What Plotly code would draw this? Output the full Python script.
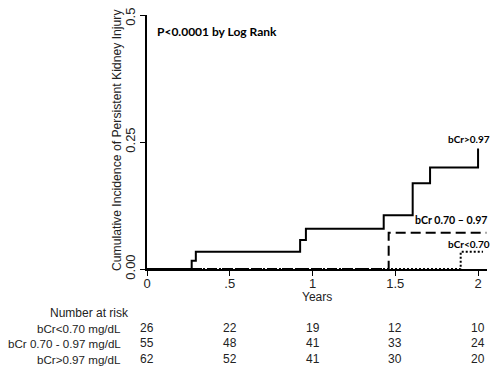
import plotly.graph_objects as go

# Data
t_high = [0, 0.27, 0.295, 0.925, 0.96, 1.43, 1.605, 1.71, 2.0]
v_high = [0, 0.016, 0.034, 0.057, 0.079, 0.106, 0.169, 0.200, 0.237]
t_mid = [0, 1.46, 2.05]
v_mid = [0, 0.0715, 0.0715]
t_low = [0, 1.895, 2.03]
v_low = [0, 0.034, 0.034]

risk_times = [0, 0.5, 1, 1.5, 2]
risk_groups = ["bCr<0.70 mg/dL", "bCr 0.70 - 0.97 mg/dL", "bCr>0.97 mg/dL"]
risk_low = [26, 22, 19, 12, 10]
risk_mid = [55, 48, 41, 33, 24]
risk_high = [62, 52, 41, 30, 20]

x_ticks = [0, 0.5, 1, 1.5, 2]
x_ticklabels = ["0", ".5", "1", "1.5", "2"]
y_ticks = [0, 0.25, 0.5]
y_ticklabels = ["0.00", "0.25", "0.50"]

# page offset (browser body margin)
OFF = 8
W, H = 500 - OFF, 367 - OFF
ml, mr, mt, mb = 147 - OFF, 13, 15 - OFF, 98
pw = W - ml - mr
ph = H - mt - mb

def px_x(p):
    return (p - OFF - ml) / pw

def px_y(p):
    return (H - mb - (p - OFF)) / ph

fig = go.Figure()
line_w = 2
fig.add_trace(go.Scatter(x=t_high, y=v_high, mode="lines", line=dict(color="black", width=line_w, shape="hv"), showlegend=False))
fig.add_trace(go.Scatter(x=t_mid, y=v_mid, mode="lines", line=dict(color="black", width=line_w, shape="hv", dash="10px,5px"), showlegend=False))
fig.add_trace(go.Scatter(x=t_low, y=v_low, mode="lines", line=dict(color="black", width=line_w, shape="hv", dash="2px,2px"), showlegend=False))

axis_font = dict(family="Liberation Sans, Arial, sans-serif", size=13, color="#222")
title_font = dict(family="Liberation Sans, Arial, sans-serif", size=12.2, color="#222")
base_font = dict(family="Liberation Sans, Arial, sans-serif", size=12, color="#222")
row_font = dict(family="Liberation Sans, Arial, sans-serif", size=11.6, color="#222")
bold_font = dict(family="Lato, sans-serif", size=12, color="black")
lab_font = dict(family="Lato, sans-serif", size=10.6, color="black")
lab_font_s = dict(family="Lato, sans-serif", size=10, color="black")

ann = []

def add(text, x, y, xanchor="center", font=base_font, xref="paper", **kw):
    ann.append(dict(text=text, x=x, y=y, xref=xref, yref="paper", xanchor=xanchor, yanchor="middle",
                    showarrow=False, font=font, borderpad=0, borderwidth=0, **kw))

add("<b>P<0.0001 by Log Rank</b>", px_x(157), px_y(31), "left", bold_font)
add("<b>bCr>0.97</b>", px_x(490), px_y(139), "right", lab_font_s)
add("<b>bCr 0.70 – 0.97</b>", px_x(487), px_y(220), "right", lab_font)
add("<b>bCr<0.70</b>", px_x(490), px_y(244), "right", lab_font_s)
add("Cumulative Incidence of Persistent Kidney Injury", px_x(117), px_y(140), "center", title_font, textangle=-90)
add("Years", px_x(317), px_y(297), "center", base_font)
add("Number at risk", px_x(129), px_y(313), "right", base_font)
row_y = [328, 343, 359]
for grp, vals, ry in zip(risk_groups, [risk_low, risk_mid, risk_high], row_y):
    add(grp, px_x(121), px_y(ry), "right", row_font)
    for t, v in zip(risk_times, vals):
        add(str(v), t, px_y(ry), "center", base_font, xref="x")

fig.update_layout(
    width=W, height=H,
    margin=dict(l=ml, r=mr, t=mt, b=mb, autoexpand=False),
    plot_bgcolor="white", paper_bgcolor="white",
    annotations=ann,
    xaxis=dict(range=[0, 2.054], tickvals=x_ticks, ticktext=x_ticklabels, showgrid=False, zeroline=False,
               showline=True, linecolor="black", linewidth=1.5, ticks="outside", ticklen=5, tickcolor="black",
               tickfont=axis_font, ticklabelstandoff=-3, ticklabeloverflow="allow", automargin=False),
    yaxis=dict(range=[0, 0.5], tickvals=y_ticks, ticktext=y_ticklabels, showgrid=False, zeroline=False,
               showline=True, linecolor="black", linewidth=1.5, ticks="outside", ticklen=5, tickcolor="black",
               tickangle=-90, tickfont=axis_font, ticklabeloverflow="allow", automargin=False),
)

fig.write_html("out.html")
